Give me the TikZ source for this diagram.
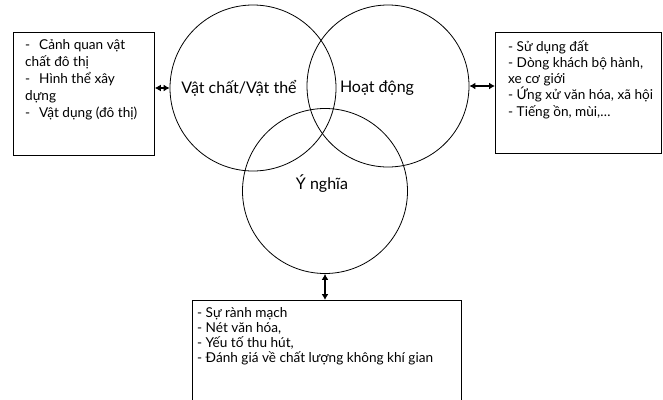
\documentclass[tikz,border=0pt]{standalone}
\usepackage{fontspec}
\setmainfont{Lato}
\usetikzlibrary{arrows.meta}

\tikzset{
  venn/.style={draw,circle,inner sep=0pt,line width=0.8pt},
  vennlabel/.style={font=\fontsize{16}{19}\selectfont},
  infobox/.style={draw,rectangle,anchor=north west,inner sep=0pt,line width=0.8pt},
  infotext/.style={anchor=north west,align=left,inner sep=0pt},
  link/.style={{Latex[length=6pt,width=7pt]}-{Latex[length=6pt,width=7pt]},line width=1.4pt}
}

\begin{document}
\begin{tikzpicture}[x=1pt,y=-1pt]
\useasboundingbox (0,0) rectangle (663,399);
% the three circles
\node[venn,minimum size=166pt] (vat) at (253,88) {};
\node[venn,minimum size=162pt] (hoat) at (388,86) {};
\node[venn,minimum size=165pt] (ynghia) at (325,191) {};
\node[vennlabel] (vatlbl) at (239,88) {Vật chất/Vật thể};
\node[vennlabel] (hoatlbl) at (377,88) {Hoạt động};
\node[vennlabel] (ynghialbl) at (322,184) {Ý nghĩa};
% the boxes
\node[infobox,minimum width=141pt,minimum height=123pt] (lbox) at (13,32) {};
\node[infotext,font=\fontsize{13.6}{17}\selectfont] (ltext) at (25,39)
  {-\hspace{9pt}Cảnh quan vật\\chất đô thị\\-\hspace{9pt}Hình thể xây\\dựng\\-\hspace{9pt}Vật dụng (đô thị)};
\node[infobox,minimum width=166pt,minimum height=121pt] (rbox) at (495,32) {};
\node[infotext,font=\fontsize{13.6}{16.3}\selectfont] (rtext) at (508,40)
  {- Sử dụng đất\\- Dòng khách bộ hành,\\xe cơ giới\\- Ứng xử văn hóa, xã hội\\- Tiếng ồn, mùi,…};
\node[infobox,minimum width=269pt,minimum height=106pt] (bbox) at (192,300) {};
\node[infotext,font=\fontsize{13.6}{15}\selectfont] (btext) at (197,307)
  {- Sự rành mạch\\- Nét văn hóa,\\- Yếu tố thu hút,\\- Đánh giá về chất lượng không khí gian};
% links
\draw[link] (vat.west -| lbox.east) -- (vat.west);
\draw[link] (hoat.east) -- (hoat.east -| rbox.west);
\draw[link] (ynghia.south) -- (ynghia.south |- bbox.north);
\end{tikzpicture}
\end{document}
